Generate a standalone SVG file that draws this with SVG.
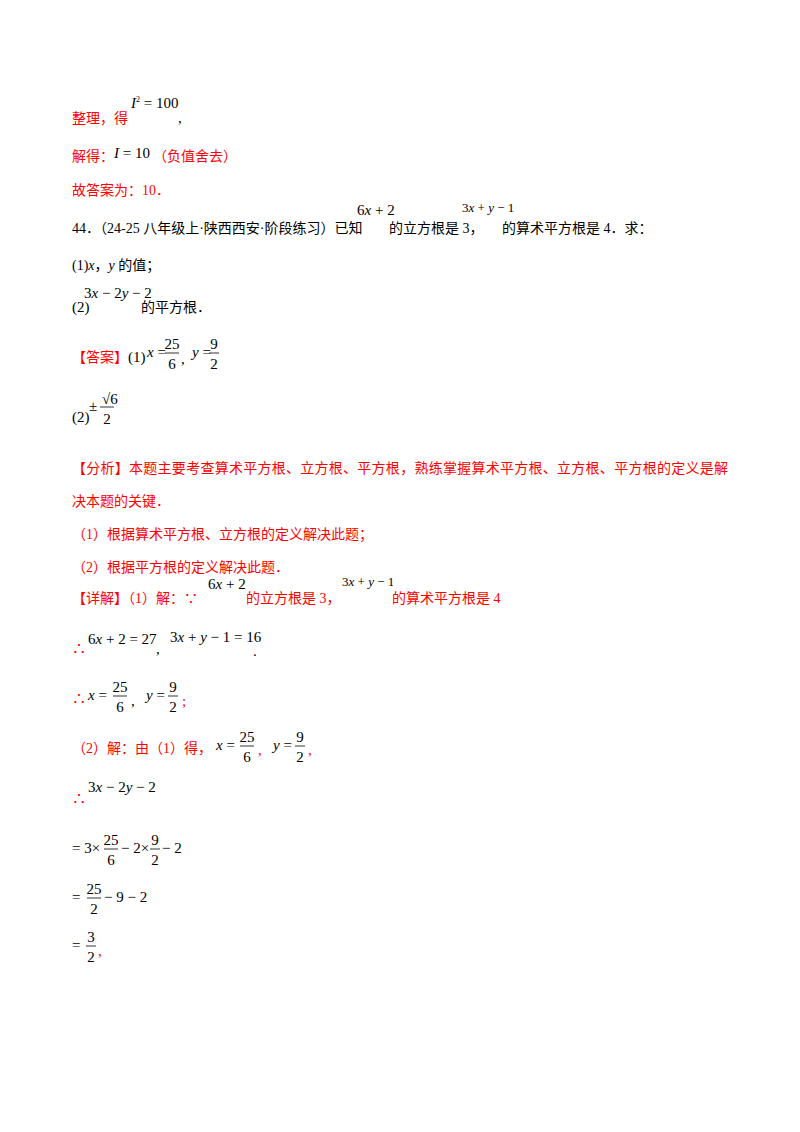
<svg xmlns="http://www.w3.org/2000/svg" width="800" height="1132" viewBox="0 0 800 1132">
<style>
text{font-family:"Liberation Serif","Noto Sans CJK SC",serif;font-size:14px;fill:#000}
.r{fill:#ff0000}
.m{font-family:"Liberation Serif",serif;font-size:15px}
.s{font-size:13px}
.i{font-style:italic}
line{stroke:#000;stroke-width:0.8}
</style>
<rect width="800" height="1132" fill="#fff"/>
<text x="72" y="123" class="r">整理，得</text>
<text x="131" y="108" class="m"><tspan class="i">I</tspan><tspan dy="-6" font-size="8">2</tspan><tspan dy="6"> = 100</tspan></text>
<text x="178" y="123" class="m">,</text>
<text x="72" y="161" class="r">解得：</text>
<text x="114" y="158" class="m"><tspan class="i">I</tspan> = 10</text>
<text x="153" y="161" class="r">（负值舍去）</text>
<text x="72" y="195" class="r">故答案为：10．</text>
<text x="72" y="233" font-size="13">44．（24-25 八年级上·陕西西安·阶段练习）已知</text>
<text x="357" y="215" class="m">6<tspan class="i">x</tspan> + 2</text>
<text x="389" y="233">的立方根是 3，</text>
<text x="462" y="212" class="m s">3<tspan class="i">x</tspan> + <tspan class="i">y</tspan> − 1</text>
<text x="502" y="233">的算术平方根是 4．求：</text>
<text x="72" y="270">(1)<tspan class="i">x</tspan>，<tspan class="i">y</tspan> 的值；</text>
<text x="72" y="312" class="m">(2)</text>
<text x="84" y="298" class="m">3<tspan class="i">x</tspan> − 2<tspan class="i">y</tspan> − 2</text>
<text x="141" y="312">的平方根．</text>
<text x="72" y="362" class="r">【答案】</text>
<text x="128" y="362" class="m">(1)</text>
<text x="147" y="357" class="m"><tspan class="i">x</tspan> =</text>
<text x="172" y="349" class="m" text-anchor="middle">25</text><line x1="165" y1="353" x2="179" y2="353"/><text x="172" y="369" class="m" text-anchor="middle">6</text>
<text x="181" y="364" class="m">,</text>
<text x="192" y="357" class="m"><tspan class="i">y</tspan> =</text>
<text x="214" y="349" class="m" text-anchor="middle">9</text><line x1="209" y1="353" x2="219" y2="353"/><text x="214" y="369" class="m" text-anchor="middle">2</text>
<text x="72" y="422" class="m">(2)</text>
<text x="89" y="411" class="m">±</text>
<text x="102" y="404" class="m">√6</text><line x1="100" y1="407" x2="114" y2="407"/><text x="107" y="424" class="m" text-anchor="middle">2</text>
<text x="72" y="473" class="r" textLength="656">【分析】本题主要考查算术平方根、立方根、平方根，熟练掌握算术平方根、立方根、平方根的定义是解</text>
<text x="72" y="506" class="r">决本题的关键．</text>
<text x="72" y="539" class="r">（1）根据算术平方根、立方根的定义解决此题；</text>
<text x="72" y="572" class="r">（2）根据平方根的定义解决此题．</text>
<text x="72" y="603" class="r">【详解】（1）解：∵</text>
<text x="208" y="589" class="m">6<tspan class="i">x</tspan> + 2</text>
<text x="246" y="603" class="r">的立方根是 3，</text>
<text x="342" y="586" class="m s">3<tspan class="i">x</tspan> + <tspan class="i">y</tspan> − 1</text>
<text x="392" y="603" class="r">的算术平方根是 4</text>
<text x="72" y="653" class="r">∴</text>
<text x="88" y="644" class="m">6<tspan class="i">x</tspan> + 2 = 27</text>
<text x="156" y="654" class="m">,</text>
<text x="170" y="642" class="m">3<tspan class="i">x</tspan> + <tspan class="i">y</tspan> − 1 = 16</text>
<text x="253" y="656" class="m">.</text>
<text x="72" y="703" class="r">∴</text>
<text x="88" y="700" class="m"><tspan class="i">x</tspan> =</text>
<text x="120" y="692" class="m" text-anchor="middle">25</text><line x1="113" y1="696" x2="127" y2="696"/><text x="120" y="712" class="m" text-anchor="middle">6</text>
<text x="131" y="706" class="m">,</text>
<text x="146" y="700" class="m"><tspan class="i">y</tspan> =</text>
<text x="173" y="692" class="m" text-anchor="middle">9</text><line x1="168" y1="696" x2="178" y2="696"/><text x="173" y="712" class="m" text-anchor="middle">2</text>
<text x="182" y="706" class="r m">;</text>
<text x="72" y="753" class="r">（2）解：由（1）得，</text>
<text x="216" y="750" class="m"><tspan class="i">x</tspan> =</text>
<text x="247" y="742" class="m" text-anchor="middle">25</text><line x1="240" y1="746" x2="254" y2="746"/><text x="247" y="762" class="m" text-anchor="middle">6</text>
<text x="258" y="755" class="r m">,</text>
<text x="273" y="750" class="m"><tspan class="i">y</tspan> =</text>
<text x="300" y="742" class="m" text-anchor="middle">9</text><line x1="295" y1="746" x2="305" y2="746"/><text x="300" y="762" class="m" text-anchor="middle">2</text>
<text x="308" y="755" class="r m">,</text>
<text x="72" y="803" class="r">∴</text>
<text x="88" y="792" class="m">3<tspan class="i">x</tspan> − 2<tspan class="i">y</tspan> − 2</text>
<text x="72" y="853" class="m">= 3×</text>
<text x="111" y="845" class="m" text-anchor="middle">25</text><line x1="104" y1="849" x2="118" y2="849"/><text x="111" y="865" class="m" text-anchor="middle">6</text>
<text x="121" y="853" class="m">− 2×</text>
<text x="155" y="845" class="m" text-anchor="middle">9</text><line x1="150" y1="849" x2="160" y2="849"/><text x="155" y="865" class="m" text-anchor="middle">2</text>
<text x="162" y="853" class="m">− 2</text>
<text x="72" y="902" class="m">=</text>
<text x="94" y="894" class="m" text-anchor="middle">25</text><line x1="87" y1="898" x2="101" y2="898"/><text x="94" y="914" class="m" text-anchor="middle">2</text>
<text x="104" y="902" class="m">− 9 − 2</text>
<text x="72" y="950" class="m">=</text>
<text x="91" y="942" class="m" text-anchor="middle">3</text><line x1="86" y1="946" x2="96" y2="946"/><text x="91" y="962" class="m" text-anchor="middle">2</text>
<text x="98" y="956" class="r m">,</text>
</svg>
